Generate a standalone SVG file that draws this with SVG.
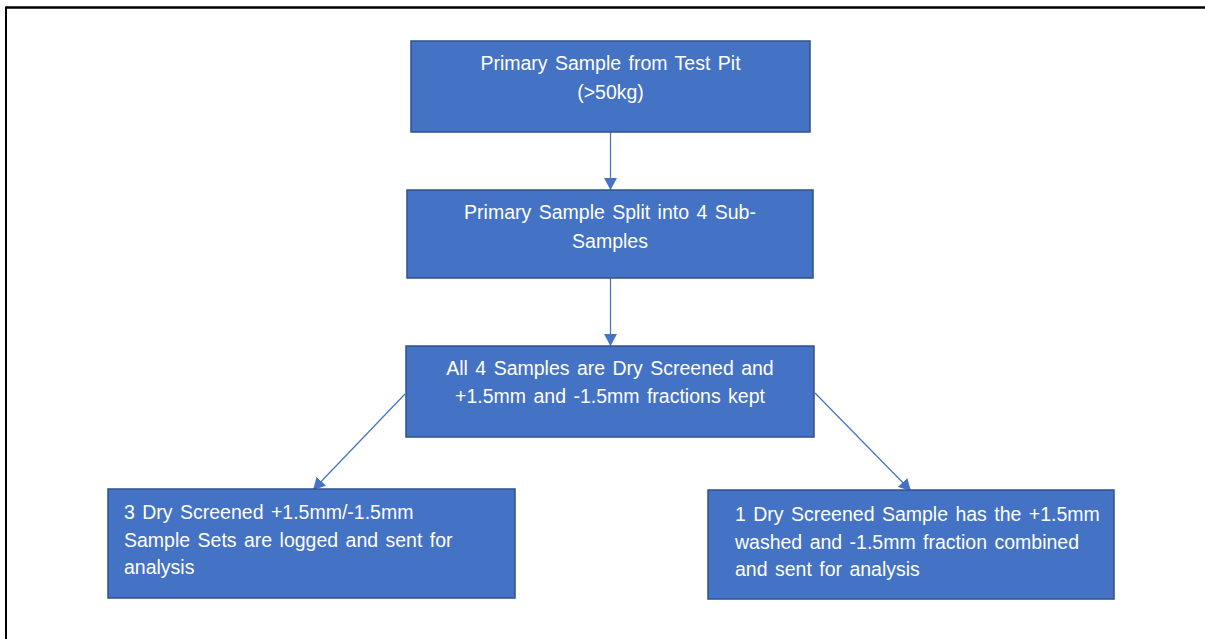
<svg xmlns="http://www.w3.org/2000/svg" width="1205" height="639" viewBox="0 0 1205 639">
<defs>
<style>
.box{fill:#4472C4;stroke:#2F528F;stroke-width:1.5}
.t{font-family:"Liberation Sans",Arial,sans-serif;font-size:19.5px;fill:#FFFFFF;word-spacing:2px}
.c{text-anchor:middle}
.conn{stroke:#4472C4;stroke-width:1.2;fill:none}
</style>
<marker id="arr" markerUnits="userSpaceOnUse" markerWidth="14" markerHeight="14" viewBox="0 0 14 14" refX="12" refY="7" orient="auto">
<path d="M0,0.5 L12,7 L0,13.5 Z" fill="#4472C4"/>
</marker>
</defs>
<rect x="0" y="0" width="1205" height="639" fill="#FFFFFF"/>
<g id="frame">
<line x1="6" y1="7.5" x2="1205" y2="7.5" stroke="#000" stroke-width="2.5"/>
<line x1="6" y1="6.5" x2="6" y2="639" stroke="#000" stroke-width="2"/>
</g>
<g id="connectors">
<line class="conn" x1="610.5" y1="132" x2="610.5" y2="190" marker-end="url(#arr)"/>
<line class="conn" x1="610.5" y1="278" x2="610.5" y2="346" marker-end="url(#arr)"/>
<line class="conn" x1="405" y1="394" x2="313" y2="490" marker-end="url(#arr)"/>
<line class="conn" x1="815" y1="393" x2="911" y2="491" marker-end="url(#arr)"/>
</g>
<g id="n1">
<rect class="box" x="411" y="41" width="399" height="91"/>
<text class="t c" x="610.5" y="70">Primary Sample from Test Pit</text>
<text class="t c" x="610.5" y="99">(&gt;50kg)</text>
</g>
<g id="n2">
<rect class="box" x="407" y="190" width="406" height="88"/>
<text class="t c" x="610" y="219">Primary Sample Split into 4 Sub-</text>
<text class="t c" x="610" y="248">Samples</text>
</g>
<g id="n3">
<rect class="box" x="406" y="346" width="408" height="91"/>
<text class="t c" x="610" y="375">All 4 Samples are Dry Screened and</text>
<text class="t c" x="610" y="403">+1.5mm and -1.5mm fractions kept</text>
</g>
<g id="n4">
<rect class="box" x="108" y="489" width="407" height="109"/>
<text class="t" x="124" y="519">3 Dry Screened +1.5mm/-1.5mm</text>
<text class="t" x="124" y="547">Sample Sets are logged and sent for</text>
<text class="t" x="124" y="574">analysis</text>
</g>
<g id="n5">
<rect class="box" x="708" y="490" width="406" height="109"/>
<text class="t" x="735" y="521">1 Dry Screened Sample has the +1.5mm</text>
<text class="t" x="735" y="548.5">washed and -1.5mm fraction combined</text>
<text class="t" x="735" y="576">and sent for analysis</text>
</g>
</svg>
